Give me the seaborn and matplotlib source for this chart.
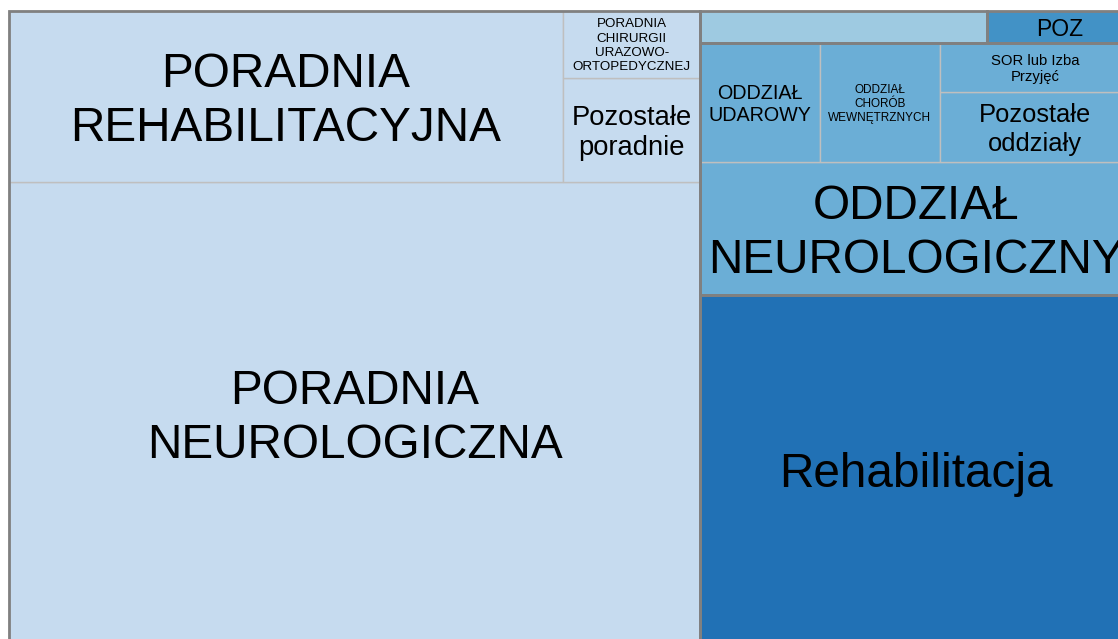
import matplotlib.pyplot as plt
import matplotlib.patches as mpatches
import seaborn as sns

# leaves of the treemap (share of cases, %)
labels = [
    "PORADNIA\nNEUROLOGICZNA",
    "PORADNIA\nREHABILITACYJNA",
    "Pozostałe\nporadnie",
    "PORADNIA\nCHIRURGII\nURAZOWO-\nORTOPEDYCZNEJ",
    "Rehabilitacja",
    "ODDZIAŁ\nNEUROLOGICZNY",
    "ODDZIAŁ\nUDAROWY",
    "ODDZIAŁ\nCHORÓB\nWEWNĘTRZNYCH",
    "Pozostałe\noddziały",
    "SOR lub Izba\nPrzyjęć",
    "",
    "POZ",
]
values = [45.0, 13.3, 2.0, 1.3, 21.2, 8.0, 2.0, 2.0, 1.9, 1.3, 1.3, 0.65]
groups = ["Poradnie"] * 4 + ["Rehabilitacja"] + ["Oddziały"] * 5 + ["Inne", "POZ"]

group_names = ["Poradnie", "Inne", "Oddziały", "POZ", "Rehabilitacja"]
group_colors = sns.color_palette(["#c6dbef", "#9ecae1", "#6baed6", "#4292c6", "#2171b5"])
font_sizes = [34.4, 34.4, 19.7, 9.6, 34.4, 34.4, 14.2, 8.5, 18.4, 10.7, 10, 16.5]
line_spacing = [1.25, 1.25, 1.18, 1.26, 1.25, 1.25, 1.17, 1.22, 1.22, 1.17, 1.2, 1.2]

# split order: "h" = left to right, "v" = bottom to top
tree = ("h", [
    ("v", [0, ("h", [1, ("v", [2, 3])])]),
    ("v", [4, ("v", [5, ("h", [6, 7, ("v", [8, 9])])]), ("h", [10, 11])]),
])


def node_value(node):
    if isinstance(node, int):
        return values[node]
    return sum(node_value(c) for c in node[1])


def layout(node, x, y, w, h, out):
    if isinstance(node, int):
        out[node] = (x, y, w, h)
        return
    direction, children = node
    total = node_value(node)
    for child in children:
        frac = node_value(child) / total
        if direction == "h":
            layout(child, x, y, w * frac, h, out)
            x += w * frac
        else:
            layout(child, x, y, w, h * frac, out)
            y += h * frac


sns.set_style("white")

rects = {}
layout(tree, 0, 0, 1, 1, rects)

fig = plt.figure(figsize=(11.18, 6.39), dpi=100)
ax = fig.add_axes([9 / 1118, -6 / 639, 1122 / 1118, 634 / 639])
ax.set_xlim(0, 1)
ax.set_ylim(0, 1)
ax.axis("off")

color_of = dict(zip(group_names, group_colors))
for i, lab in enumerate(labels):
    x, y, w, h = rects[i]
    ax.add_patch(mpatches.Rectangle((x, y), w, h, facecolor=color_of[groups[i]],
                                    edgecolor="#bfbfbf", lw=1, clip_on=False))
    if lab:
        # nudge down a bit so the capitals, not the descenders, sit in the middle
        ax.annotate(lab, (x + w / 2, y + h / 2), xytext=(0, -0.1 * font_sizes[i]),
                    textcoords="offset points", ha="center", va="center",
                    fontsize=font_sizes[i], family="Liberation Sans", color="black",
                    linespacing=line_spacing[i], multialignment="center")

# darker outline round each top-level group
for g in group_names:
    idx = [i for i in range(len(labels)) if groups[i] == g]
    x0 = min(rects[i][0] for i in idx)
    y0 = min(rects[i][1] for i in idx)
    x1 = max(rects[i][0] + rects[i][2] for i in idx)
    y1 = max(rects[i][1] + rects[i][3] for i in idx)
    ax.add_patch(mpatches.Rectangle((x0, y0), x1 - x0, y1 - y0, fill=False,
                                    edgecolor="#808080", lw=2, clip_on=False))

fig.savefig("out.png", dpi=100)
